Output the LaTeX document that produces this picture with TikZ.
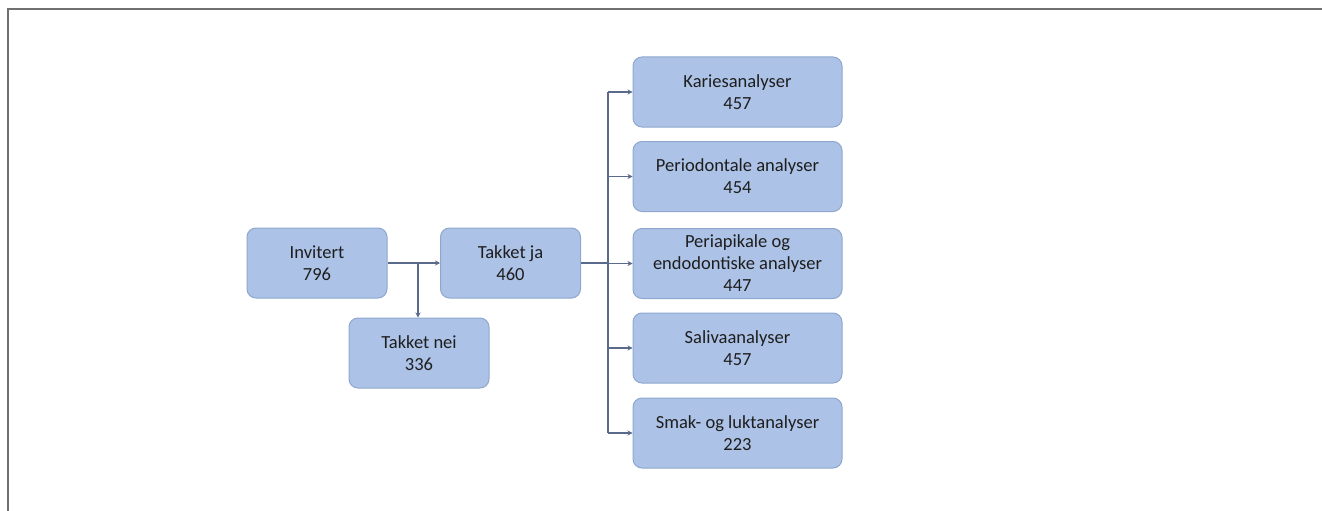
\documentclass[tikz,border=0pt]{standalone}
\usepackage{fontspec}
\setmainfont{Carlito}
\usetikzlibrary{arrows.meta}
\definecolor{boxfill}{HTML}{ACC2E6}
\definecolor{boxdraw}{HTML}{8FA7CF}
\definecolor{linecol}{HTML}{5A6A8A}
\definecolor{txtcol}{HTML}{1E1E1E}
\definecolor{framecol}{HTML}{707070}
\tikzset{
  flowbox/.style={draw=boxdraw, line width=1pt, fill=boxfill, rounded corners=9pt,
    minimum height=70pt, align=center, inner sep=2pt, text=txtcol,
    font=\fontsize{18.5}{22}\selectfont},
  leftbox/.style={flowbox, minimum width=140pt},
  rightbox/.style={flowbox, minimum width=209pt},
  conn/.style={draw=linecol, line width=1.1pt, -{Stealth[length=5pt,width=5pt]}},
  plain/.style={draw=linecol, line width=1.1pt}
}
\begin{document}
\begin{tikzpicture}[x=1pt,y=-1pt]
\useasboundingbox (0,0) rectangle (1322,511);
\draw[framecol, line width=1.6pt] (8,511) -- (8,9) -- (1322,9);
\node[leftbox] (inv) at (317,263) {Invitert\\796};
\node[leftbox] (nei) at (419,353) {Takket nei\\336};
\node[leftbox] (ja) at (510.5,263) {Takket ja\\460};
\node[rightbox] (k) at (737.5,92) {Kariesanalyser\\457};
\node[rightbox] (p) at (737.5,176.5) {Periodontale analyser\\454};
\node[rightbox] (pa) at (737.5,263.5) {Periapikale og\\endodontiske analyser\\447};
\node[rightbox] (s) at (737.5,348) {Salivaanalyser\\457};
\node[rightbox] (sm) at (737.5,433) {Smak- og luktanalyser\\223};
\coordinate (b1) at (418,263);
\coordinate (b2) at (608,263);
\draw[conn] (inv.east) -- (ja.west);
\draw[conn] (b1) -- (b1 |- nei.north);
\draw[plain] (ja.east) -- (b2);
\draw[plain] (b2 |- k.west) -- (b2 |- sm.west);
\draw[conn] (b2 |- k.west) -- (k.west);
\draw[conn] (b2 |- p.west) -- (p.west);
\draw[conn] (b2 |- pa.west) -- (pa.west);
\draw[conn] (b2 |- s.west) -- (s.west);
\draw[conn] (b2 |- sm.west) -- (sm.west);
\end{tikzpicture}
\end{document}
